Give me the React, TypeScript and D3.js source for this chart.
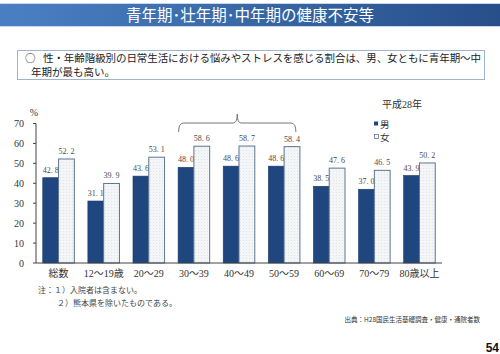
import * as d3 from "d3";
import { useEffect, useRef } from "react";

const categories = ["総数", "12〜19歳", "20〜29", "30〜39", "40〜49", "50〜59", "60〜69", "70〜79", "80歳以上"];
const maleValues = [42.8, 31.1, 43.6, 48.0, 48.6, 48.6, 38.5, 37.0, 43.9];
const femaleValues = [52.2, 39.9, 53.1, 58.6, 58.7, 58.4, 47.6, 46.5, 50.2];
const yTicks = [0, 10, 20, 30, 40, 50, 60, 70];

const SERIF = "'Liberation Serif','DejaVu Serif','Noto Sans CJK JP',serif";
const SANS = "'Noto Sans CJK JP','Noto Sans',sans-serif";

export default function App() {
  const svgRef = useRef<SVGSVGElement>(null);
  const w = 500;
  const h = 354;

  useEffect(() => {
    if (!svgRef.current) return;
    const svg = d3.select(svgRef.current);
    svg.selectAll("*").remove();

    const defs = svg.append("defs");
    const grad = defs.append("linearGradient").attr("id", "titleGrad");
    grad.append("stop").attr("offset", "0%").attr("stop-color", "#4a80c3");
    grad.append("stop").attr("offset", "100%").attr("stop-color", "#274f8a");

    // faint dotted fill for the female bars
    const pat = defs
      .append("pattern")
      .attr("id", "dots")
      .attr("width", 3)
      .attr("height", 3)
      .attr("patternUnits", "userSpaceOnUse");
    pat.append("rect").attr("width", 3).attr("height", 3).attr("fill", "#f3f5f7");
    pat.append("rect").attr("width", 1).attr("height", 1).attr("fill", "#e0e4e9");

    // title bar
    svg.append("rect").attr("x", 0).attr("y", 3).attr("width", w).attr("height", 24).attr("fill", "#c7d6ea");
    svg.append("rect").attr("x", 0).attr("y", 4).attr("width", w).attr("height", 22).attr("fill", "url(#titleGrad)");
    svg.append("text")
      .attr("x", 250)
      .attr("y", 20.5)
      .attr("text-anchor", "middle")
      .attr("font-size", 15.5)
      .attr("font-family", SANS)
      .attr("fill", "#fff")
      .text("青年期･壮年期･中年期の健康不安等");

    // summary box
    svg.append("rect")
      .attr("x", 17.5)
      .attr("y", 50.5)
      .attr("width", 467)
      .attr("height", 29)
      .attr("fill", "#fff")
      .attr("stroke", "#9fb3d0");
    svg.append("text").attr("x", 25).attr("y", 62).attr("font-size", 10.5).attr("font-family", SANS).attr("fill", "#222").text("○");
    svg.append("text")
      .attr("x", 43)
      .attr("y", 62)
      .attr("font-size", 10.5)
      .attr("font-family", SANS)
      .attr("fill", "#222")
      .attr("textLength", 438)
      .attr("lengthAdjust", "spacing")
      .text("性・年齢階級別の日常生活における悩みやストレスを感じる割合は、男、女ともに青年期〜中");
    svg.append("text").attr("x", 31).attr("y", 75.5).attr("font-size", 10.5).attr("font-family", SANS).attr("fill", "#222").text("年期が最も高い。");

    // chart
    const x = d3.scaleBand<string>().domain(categories).range([36, 442]).paddingInner(0.3).paddingOuter(0.15);
    const y = d3.scaleLinear().domain([0, 70]).range([263, 123.5]);
    const bw = x.bandwidth() / 2;
    const g = svg.append("g");

    // y axis
    g.append("line").attr("x1", 36).attr("x2", 36).attr("y1", y(70)).attr("y2", y(0)).attr("stroke", "#444");
    yTicks.forEach((t) => {
      g.append("line").attr("x1", 33).attr("x2", 36).attr("y1", y(t)).attr("y2", y(t)).attr("stroke", "#444");
      g.append("text")
        .attr("x", 24)
        .attr("y", y(t))
        .attr("dy", "0.35em")
        .attr("text-anchor", "end")
        .attr("font-size", 10)
        .attr("font-family", SERIF)
        .attr("fill", "#333")
        .text(t);
    });
    g.append("text").attr("x", 34).attr("y", 116).attr("text-anchor", "middle").attr("font-size", 10).attr("font-family", SERIF).attr("fill", "#333").text("%");

    // male bars + labels
    categories.forEach((c, i) => {
      const x0 = x(c) ?? 0;
      g.append("rect")
        .attr("x", x0)
        .attr("y", y(maleValues[i]))
        .attr("width", bw)
        .attr("height", y(0) - y(maleValues[i]))
        .attr("fill", "#1f467f")
        .attr("stroke", "#1a3a6a")
        .attr("stroke-width", 0.6);
      g.append("text")
        .attr("x", x0 + bw / 2)
        .attr("y", y(maleValues[i]) - 5)
        .attr("text-anchor", "middle")
        .attr("font-size", 8)
        .attr("font-family", SERIF)
        .attr("fill", "#4a4a4a")
        .text(maleValues[i].toFixed(1).replace(".", ". "));
    });

    // female bars + labels (drawn after male labels so they overlap them)
    categories.forEach((c, i) => {
      const x0 = (x(c) ?? 0) + bw;
      g.append("rect")
        .attr("x", x0)
        .attr("y", y(femaleValues[i]))
        .attr("width", bw)
        .attr("height", y(0) - y(femaleValues[i]))
        .attr("fill", "url(#dots)")
        .attr("stroke", "#607590")
        .attr("stroke-width", 1);
      g.append("text")
        .attr("x", x0 + bw / 2)
        .attr("y", y(femaleValues[i]) - 5)
        .attr("text-anchor", "middle")
        .attr("font-size", 8)
        .attr("font-family", SERIF)
        .attr("fill", "#4a4a4a")
        .text(femaleValues[i].toFixed(1).replace(".", ". "));
    });

    // x axis
    g.append("line").attr("x1", 36).attr("x2", 442).attr("y1", y(0)).attr("y2", y(0)).attr("stroke", "#444");
    categories.forEach((c) => {
      g.append("text")
        .attr("x", (x(c) ?? 0) + x.bandwidth() / 2)
        .attr("y", 277)
        .attr("text-anchor", "middle")
        .attr("font-size", 10)
        .attr("font-family", SERIF)
        .attr("fill", "#333")
        .text(c);
    });

    // brace over 30〜59
    const bx0 = (x("30〜39") ?? 0) + 0.5;
    const bx1 = (x("50〜59") ?? 0) + x.bandwidth() - 4;
    const bm = (bx0 + bx1) / 2;
    const by = 123;
    const p = d3.path();
    p.moveTo(bx0, by + 9);
    p.quadraticCurveTo(bx0, by, bx0 + 5, by);
    p.lineTo(bm - 4, by);
    p.quadraticCurveTo(bm, by, bm, by - 9);
    p.quadraticCurveTo(bm, by, bm + 4, by);
    p.lineTo(bx1 - 5, by);
    p.quadraticCurveTo(bx1, by, bx1, by + 9);
    g.append("path").attr("d", p.toString()).attr("fill", "none").attr("stroke", "#777").attr("stroke-width", 1);

    // legend
    g.append("text").attr("x", 402).attr("y", 108).attr("text-anchor", "middle").attr("font-size", 10).attr("font-family", SERIF).attr("fill", "#333").text("平成28年");
    g.append("rect").attr("x", 374).attr("y", 121.5).attr("width", 4).attr("height", 4).attr("fill", "#1f467f");
    g.append("text").attr("x", 380).attr("y", 127.5).attr("font-size", 9.5).attr("font-family", SERIF).attr("fill", "#333").text("男");
    g.append("rect").attr("x", 374.5).attr("y", 134.5).attr("width", 4).attr("height", 4).attr("fill", "#fff").attr("stroke", "#607590").attr("stroke-width", 0.8);
    g.append("text").attr("x", 380).attr("y", 140.5).attr("font-size", 9.5).attr("font-family", SERIF).attr("fill", "#333").text("女");

    // notes
    svg.append("text").attr("x", 38).attr("y", 293).attr("font-size", 8).attr("font-family", SERIF).attr("fill", "#444").text("注：１）入院者は含まない。");
    svg.append("text").attr("x", 57).attr("y", 306).attr("font-size", 8).attr("font-family", SERIF).attr("fill", "#444").text("２）熊本県を除いたものである。");

    // source
    svg.append("text")
      .attr("x", 480)
      .attr("y", 322)
      .attr("text-anchor", "end")
      .attr("font-size", 6.5)
      .attr("font-family", SANS)
      .attr("fill", "#333")
      .text("出典：H28国民生活基礎調査・健康・通院者数");

    // page number
    svg.append("text")
      .attr("x", 499)
      .attr("y", 352)
      .attr("text-anchor", "end")
      .attr("font-size", 12)
      .attr("font-weight", "bold")
      .attr("font-family", "'Liberation Sans',Arial,sans-serif")
      .attr("fill", "#111")
      .text("54");
  }, []);

  return (
    <svg
      ref={svgRef}
      width={w}
      height={h}
      viewBox={`0 0 ${w} ${h}`}
      style={{ position: "absolute", left: 0, top: 0, background: "#fff" }}
    />
  );
}
